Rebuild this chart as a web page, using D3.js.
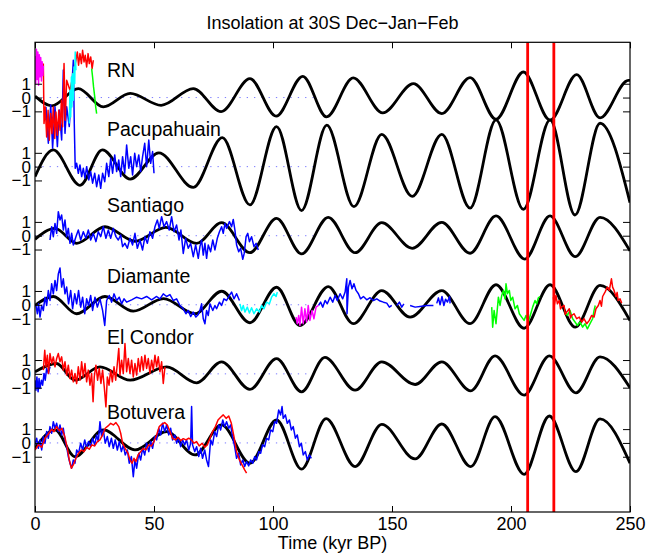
<!DOCTYPE html>
<html>
<head>
<meta charset="utf-8">
<script src="https://cdn.jsdelivr.net/npm/d3@7"></script>
<style>
body { margin: 0; background: #fff; }
text { font-family: "Liberation Sans", Arial, Helvetica, sans-serif; fill: #000; }
</style>
</head>
<body>
<script>
// panel names, top to bottom
var panels = ["RN", "Pacupahuain", "Santiago", "Diamante", "El Condor", "Botuvera"];
var xTicks = [0, 50, 100, 150, 200, 250];
var yTickValues = [-1, 0, 1];
var yTickLabels = ["\u22121", "0", "1"];
var markers = [207, 218]; // red vertical lines, kyr BP

// insolation curves, turning points [kyr, value]
var insolRN = [[0, 0.1], [7, -0.6], [18.2, 0.65], [28.7, -0.68], [40, 0.3], [53, -0.56], [66.5, 0.65],
  [78.2, -1.02], [90.3, 1.37], [101.3, -1.35], [112.5, 1.54], [122.5, -1.4], [133.7, 1.42], [146.1, -1.11],
  [159, 1.01], [170.9, -1.16], [182.8, 1.45], [193.7, -1.57], [205.2, 1.85], [216.4, -1.64], [227.6, 1.66],
  [237.4, -1.47], [249.3, 1.25], [250, 1.24]];
var insolPacu = [[0, -0.72], [7.7, 1.21], [18.9, -1.35], [28.3, 1.21], [40, -0.9], [52, 1.0], [66.5, -1.5],
  [78.7, 2.1], [90.3, -2.77], [101.5, 2.9], [112, -3.18], [122.6, 3.0], [134, -2.9], [145.7, 2.34],
  [158.5, -2.15], [170.9, 2.34], [182.8, -3.0], [193.7, 3.38], [205.2, -3.1], [216.4, 3.38], [226.9, -3.5],
  [237.4, 3.14], [250, -2.6]];
var insolSantiago = [[0, -0.26], [8.4, 0.53], [17.5, -0.55], [29.4, 0.65], [42, -0.4], [55, 0.6], [67.9, -0.55],
  [78.4, 0.94], [90.3, -1.23], [101.5, 1.26], [112, -1.32], [123.2, 1.33], [134.5, -1.23], [145.7, 0.94],
  [158.5, -0.91], [170.9, 0.97], [182.8, -1.27], [193.7, 1.43], [205.8, -1.69], [216.4, 1.43], [227, -1.52],
  [237.4, 1.33], [250, -1.1]];
var insolDiamante = [[0, -0.05], [7.7, 0.6], [17.5, -0.65], [29.4, 0.6], [41.3, -0.46], [54, 0.45], [67.2, -0.65],
  [78.4, 0.98], [90.3, -1.3], [101.5, 1.27], [111.3, -1.5], [123.2, 1.32], [133.7, -1.37], [145.7, 1.03],
  [157.6, -0.9], [170.9, 1.03], [182.8, -1.37], [193.7, 1.45], [205.5, -1.7], [216.4, 1.45], [227, -1.62],
  [237.4, 1.4], [250, -1.14]];
var insolCondor = [[0, 0.14], [9, 0.75], [16.8, -0.46], [27.3, 0.5], [40, -0.46], [55.3, 0.5], [67.9, -0.65],
  [78.4, 0.87], [90.3, -1.13], [101.5, 1.1], [112, -1.3], [121.8, 1.19], [134.5, -1.18], [145.7, 0.87],
  [159.7, -0.77], [170.9, 0.87], [183.1, -1.23], [193.3, 1.3], [205.5, -1.54], [216.1, 1.3], [227.3, -1.37],
  [237.4, 1.23], [250, -1.01]];
var insolBotuvera = [[0, -0.38], [8.4, 0.94], [16.8, -0.99], [28.7, 0.94], [42, -0.5], [55.3, 0.82], [67.2, -0.87],
  [78.4, 1.3], [90.3, -1.47], [101.5, 1.66], [112, -1.9], [122.3, 1.76], [134.5, -1.71], [145.7, 1.35],
  [159.7, -1.16], [170.9, 1.37], [183.1, -1.71], [193.3, 1.9], [205.5, -2.27], [216.1, 1.95], [227.3, -2.08],
  [237.4, 1.74], [250, -1.47]];
var insolation = [insolRN, insolPacu, insolSantiago, insolDiamante, insolCondor, insolBotuvera];

// proxy records [kyr, value], null = gap
var rnMagenta = [[0, 3.0], [0.3, 1.0], [0.6, 3.5], [0.9, 1.3], [1.2, 3.3], [1.5, 0.9], [1.8, 3.1], [2.1, 1.5],
  [2.4, 2.9], [2.7, 1.2], [3.0, 2.6], [3.3, 1.6], [3.5, 2.3]];
var rnRed = [[3.5, 2.46], [3.8, -1.88], [4.3, -0.68], [4.9, -2.85], [5.5, -0.92], [6.0, -3.09], [6.6, -1.16],
  [7.1, -2.61], [7.7, -0.68], [8.3, -2.97], [8.8, -1.04], [9.4, -2.73], [10.0, -0.92], [10.5, -2.37],
  [11.1, -0.2], [11.6, -2.12], [12.2, 2.46], [12.7, -1.64], [13.3, 1.25], [14.7, 0.53], [16.1, 1.73],
  [17.2, 2.7], [17.8, 3.3], [18.3, 2.34], [18.9, 3.18], [19.5, 2.46], [20.0, 3.42], [20.6, 2.58], [21.1, 3.06],
  [21.7, 2.22], [22.3, 3.18], [22.8, 2.46], [23.4, 2.94], [24.0, 2.1], [24.5, 2.7]];
var rnCyan = [[14.4, -1.88], [14.7, 0.53], [15.0, -1.4], [15.3, 1.49], [15.5, -0.68], [15.8, 1.73], [16.1, -0.2],
  [16.4, 2.22], [16.7, 1.01], [16.9, 3.3], [17.2, 1.98]];
var rnGreen = [[23.8, 2.1], [24.2, 1.49], [24.6, 0.77], [25.1, 0.05], [25.5, -0.68], [25.9, -1.16]];

var pacuBlue = [[4.6, 4.34], [5.6, 1.69], [6.6, 4.46], [7.4, 1.33], [8.4, 4.34], [9.4, 1.45], [10.2, 4.1],
  [11.2, 1.93], [11.9, 7.0], [12.6, 2.41], [13.3, 4.34], [14.4, 2.9], [15.4, 5.55], [16.1, 7.7], [16.5, 3.14],
  [16.9, -0.12], [17.5, 0.24], [18.2, -0.48], [18.9, 0.12], [19.6, -0.72], [20.3, -0.12], [21.0, -0.84],
  [21.7, 0], [22.6, -0.96], [23.4, -0.36], [24.2, -1.2], [25.1, -0.48], [25.9, -1.45], [26.8, -0.6],
  [27.6, -1.57], [28.4, -0.48], [29.3, -1.09], [30.1, 0.24], [31.0, -0.72], [31.8, 0.6], [32.6, -0.48],
  [33.5, 0.85], [34.3, -0.36], [35.2, 0.48], [36.0, -0.72], [36.8, 0.72], [37.7, -0.48], [38.5, 1.57],
  [39.4, -0.12], [40.2, 0.72], [41.0, -0.6], [41.9, 0.97], [42.7, 0], [43.6, 0.85], [44.4, -0.36], [45.2, 0.72],
  [46.1, 1.69], [46.9, 0], [47.8, 1.93], [48.6, 0.24], [49.4, 1.09], [50.0, -0.48]];

var santiagoBlue = [[6.3, -0.31], [7.0, 0.65], [7.7, -0.07], [8.4, 0.89], [9.1, 0.17], [9.8, 1.74], [10.5, 1.14],
  [11.2, 1.5], [11.9, 0.41], [12.6, 1.14], [13.3, -0.07], [14.0, 0.53], [14.7, -0.55], [15.4, 0.17],
  [16.1, -0.67], [17.2, -0.07], [18.2, 0.41], [19.2, -0.31], [20.3, 0.29], [21.4, -0.19], [22.4, 0.41],
  [23.4, -0.31], [24.5, 0.17], [25.6, -0.43], [26.6, 0.29], [27.6, -0.07], [28.7, 0.65], [29.8, -0.19],
  [30.8, 0.41], [31.8, -0.19], [32.9, 0.53], [34.0, -0.07], [35.0, -0.31], [36.0, 0.05], [36.8, -0.79],
  [37.8, -0.55], [38.8, -0.91], [39.9, -0.19], [41.0, -0.67], [42.0, 0.17], [43.0, -0.91], [44.1, -0.31],
  [45.2, -1.03], [46.2, -0.07], [47.2, -0.55], [48.3, 0.29], [49.4, -0.19], [50.4, 0.65], [51.4, 1.14],
  [52.2, 0.53], [53.2, 1.38], [54.2, 0.65], [55.3, 1.02], [56.4, 0.41], [57.4, 1.38], [58.4, 0.29],
  [59.5, 0.77], [60.5, -0.31], [61.3, 0.41], [62.3, -1.28], [63.3, -0.19], [64.4, -0.91], [65.4, -0.55],
  [66.5, -1.52], [67.5, -0.67], [68.6, -1.64], [69.3, -0.79], [70.0, -0.31], [70.7, -1.4], [71.4, -0.55],
  [72.1, -1.64], [72.8, -0.67], [73.8, -1.16], [74.7, -0.31], [75.6, -1.03], [76.6, -0.19], [77.5, 0.29],
  [78.4, 0.65], [79.1, 0.17], [79.8, 0.89], [80.5, 0.53], [81.7, 1.02], [82.6, 0.65], [83.3, 1.18],
  [84.0, 0.41], [84.7, -0.67], [85.6, -1.16], [86.4, -0.91], [87.3, -1.71], [87.9, -1.28], [88.7, -0.07],
  [89.4, 0.17], [90.1, -0.43], [91.0, -0.07], [92.0, -0.79], [92.9, -0.55], [93.8, -1.03]];

var diamanteBlue = [[0.4, -0.05], [1.0, -0.65], [1.5, 0.07], [2.1, -0.89], [2.8, -0.05], [3.5, -0.41],
  [4.2, 0.55], [4.9, -0.05], [5.6, 1.03], [6.3, 0.31], [7.0, 1.52], [7.7, 0.79], [8.4, 1.76], [9.1, 1.03],
  [9.8, 2.24], [10.5, 2.67], [11.2, 1.28], [11.9, 1.88], [12.6, 0.79], [13.3, 1.28], [14.1, 0.07], [15.0, 1.03],
  [15.8, -0.29], [16.7, 0.79], [17.5, 0.07], [18.3, 1.03], [19.2, -0.17], [20.0, 0.55], [20.9, -0.65],
  [21.7, 0.43], [22.5, -0.05], [23.4, 0.67], [24.2, -0.41], [25.2, 0.55], [26.2, -0.17], [27.3, 0.43],
  [28.4, -0.41], [29.3, -1.5], [30.1, 0.31], [31.2, 0.67], [32.2, 0.19], [33.2, 0.79], [34.3, 0.31],
  [35.4, 0.55], [36.4, 0.07], [37.4, 0.43], [38.5, 0.19], [40.6, 0.36], [42.7, 0.55], [44.8, 0.43],
  [46.9, 0.6], [49.0, 0.36], [51.1, 0.6], [52.5, 0.43], [53.9, 0.79], [55.3, 0.6], [56.7, 0.74], [58.1, 0.31],
  [59.5, 0.43], [60.9, -0.05], [62.3, -0.29], [63.4, -0.65], [64.4, -0.41], [65.4, -0.85], [66.5, -0.53],
  [67.6, -0.89], [68.6, -0.7], [69.3, -0.41], [70.0, 0.07], [70.7, -1.01], [71.4, -1.37], [72.1, -0.41],
  [72.8, -0.77], [73.5, 0.07], [74.7, -0.41], [75.6, -0.05], [76.3, -0.29], [77.5, 0.19], [78.4, -0.05],
  [79.4, 0.43], [80.5, 0.31], [81.7, 0.68], [82.6, 0.92], [83.6, 0.43], [84.7, 0.8], [85.9, 0.31],
  [100, null],
  [119.1, -0.05], [120.0, 0.19], [120.9, -0.17], [121.9, 0.31], [122.8, 0.07], [124.0, 0.55], [125.1, 0.19],
  [126.1, 0.68], [127.0, 0.31], [128.2, 0.8], [129.3, 0.43], [130.3, 0.92], [131.0, 1.88], [131.1, -0.65],
  [131.7, 1.28], [132.4, 1.76], [133.2, 1.16], [134.0, 1.52], [134.9, 1.04], [135.9, 0.8], [136.8, 0.43],
  [138.0, 0.6], [139.4, 0.36], [140.8, 0.51], [142.2, 0.31], [143.6, 0.43], [145.0, 0.27], [146.4, 0.19],
  [147.8, 0.12], [148.9, -0.17], [149.9, -0.05], [151, null], [152.0, -0.05], [153.1, 0.19], [154.1, -0.17],
  [155.0, 0.07], [156.3, null], [157.6, -0.05], [159.7, -0.17], [161.8, -0.12], [164.5, -0.05], [167.4, -0.05],
  [168.1, null], [168.8, 0.1], [169.5, 0.5], [170.2, 0.0], [171.0, 0.6], [171.8, -0.05], [172.5, 0.4],
  [173.3, 0.2], [174.2, 0.6], [174.4, 0.1]];
var diamanteCyan = [[86.1, 0.07], [86.8, -0.41], [87.5, -0.05], [88.2, -0.53], [89.2, -0.17], [90.1, -0.6],
  [91.0, -0.22], [92.0, -0.65], [93.1, -0.29], [94.3, -0.53], [95.2, -0.05], [96.2, -0.29], [97.3, 0.19],
  [98.5, 0.07], [99.4, 0.55], [100.4, 0.8], [101.3, 0.6], [101.8, 0.92]];
var diamanteMagenta = [[109.7, -0.89], [110.2, -1.37], [110.8, -0.77], [111.3, -1.5], [112.0, -0.17],
  [112.7, -1.37], [113.4, -0.29], [114.1, -1.25], [114.8, -0.05], [115.5, -1.13], [116.4, -0.41],
  [117.2, -1.01], [118.1, -0.17], [119.1, -0.05]];
var diamanteGreen = [[191.9, -0.17], [192.3, -1.62], [192.9, -0.41], [193.7, -1.37], [194.7, 0.55],
  [195.4, -0.05], [196.1, 0.68], [196.8, 1.04], [197.5, 0.43], [197.9, 1.52], [198.5, 0.8], [199.3, 1.04],
  [199.9, 0.31], [200.7, 0.55], [201.7, -0.29], [202.7, -0.05], [203.5, -0.65], [204.5, -0.89], [205.5, -1.13],
  [206.3, -0.77], [207.3, -1.25], [208.3, -0.65], [209.1, -0.17], [210.1, 0.31], [210.8, 0.07], [211.5, 0.51],
  [212.2, 0.6], [217, null],
  [222.7, -0.53], [223.7, -0.77], [224.8, -0.41], [225.9, -1.01], [226.9, -1.25], [227.9, -1.5], [229.0, -1.25],
  [230.1, -1.62], [231.1, -1.37], [232.1, -1.74], [233.2, -1.37], [234.3, -1.01], [234.9, -0.41], [235.4, -0.05]];
var diamanteRed = [[217.8, 0.55], [218.2, -0.05], [218.9, 0.68], [219.5, 0.07], [220.3, 0.31], [220.8, -0.3],
  [221.3, -0.17], [222.3, -0.05], [222.8, -0.7], [223.4, -0.53], [224.5, -0.29], [225.0, -0.95], [225.5, -0.77],
  [226.5, -0.65], [227.6, -1.01], [228.7, -0.89], [229.7, -1.25], [230.7, -1.01], [231.8, -1.37], [232.9, -1.13],
  [233.9, -0.77], [234.9, -0.89], [235.7, -0.29], [236.7, -0.05], [237.4, 0.31], [238.0, -0.1], [238.5, 0.6],
  [239.5, 0.92], [240.5, 1.28], [241.3, 1.04], [242.2, 1.88], [242.7, 1.28], [243.3, 1.04], [244.1, 0.6],
  [244.6, 0.9], [245.0, 0.31], [245.8, 0.43], [246.5, 0.12]];

var condorBlue = [[0.0, -0.46], [0.4, -1.18], [0.8, -0.22], [1.3, -1.3], [1.7, -0.34], [2.1, -1.06], [2.7, -0.46],
  [3.2, -0.82], [3.8, 0.03], [4.3, -0.46], [4.9, 0.39], [5.6, 0.03], [6.3, 0.51]];
var condorRed = [[3.5, 0.27], [4.1, 1.71], [4.6, 0.51], [5.2, 1.35], [5.7, 0.03], [6.3, 1.47], [7.0, 0.75],
  [7.7, 1.23], [8.4, 0.51], [9.1, 1.11], [9.8, 1.47], [10.5, 0.87], [11.2, 1.23], [11.9, 0.27], [12.6, 0.87],
  [13.3, -0.09], [14.0, 0.63], [14.7, -0.34], [15.4, 0.27], [16.1, -0.58], [16.8, 0.03], [17.5, -0.7],
  [18.2, 0.51], [18.9, -0.46], [19.6, 0.87], [20.3, -0.22], [21.0, 0.75], [21.7, -0.58], [22.4, 0.27],
  [23.1, -0.82], [23.8, 0.03], [24.4, -2.02], [24.9, -0.22], [25.6, 0.63], [26.3, -0.46], [27.0, 0.39],
  [27.7, -0.7], [28.4, 0.27], [29.1, -0.94], [29.8, -2.39], [30.4, -0.22], [31.1, -0.82], [31.8, 0.27],
  [32.5, -0.58], [33.2, 0.51], [33.9, -0.46], [34.6, 0.75], [35.2, 1.84], [35.7, -0.09], [36.4, 0.99],
  [37.1, 0.03], [37.8, 2.2], [38.5, 0.15], [39.2, 1.11], [39.9, 0.03], [40.6, 0.99], [41.3, -0.22],
  [42.0, 0.75], [42.7, -0.09], [43.4, 1.11], [44.1, 0.15], [44.8, 1.23], [45.5, 0.27], [46.2, 1.35],
  [46.9, 0.39], [47.6, 1.11], [48.3, 0.03], [49.0, 0.99], [49.7, 0.27], [50.4, 1.35], [51.1, 0.51],
  [51.8, 1.23], [52.5, 0.15], [53.2, 0.87], [53.9, -0.7], [54.6, 0.51]];

var botuveraBlue = [[0.0, -0.14], [0.7, 0.34], [1.4, -0.39], [2.1, 0.22], [2.8, -0.51], [3.5, 0.46], [4.2, -0.02],
  [4.9, 0.82], [5.6, 0.34], [6.3, 1.18], [7.0, 0.7], [7.7, 1.54], [8.4, 1.06], [9.1, 1.42], [9.8, 0.82],
  [10.5, 1.3], [11.2, 0.58], [11.9, 1.06], [12.6, 0.22], [13.3, -0.27], [14.0, -0.99], [14.7, -1.47],
  [15.4, -1.83], [16.1, -1.23], [16.8, -1.47], [17.5, -0.51], [18.3, -0.75], [19.2, -0.02], [20.0, -0.51],
  [20.9, 0.22], [21.7, -0.39], [22.5, 0.1], [23.4, -0.27], [24.2, 0.34], [25.1, -0.14], [25.9, 0.58],
  [26.6, 0.1], [27.3, 1.54], [28.0, 0.46], [28.7, 0.94], [29.5, -0.02], [30.4, 0.46], [31.2, -0.27],
  [32.1, 0.34], [32.9, -0.39], [33.7, 0.22], [34.6, -0.51], [35.4, 0.1], [36.3, -0.63], [37.1, -0.14],
  [37.9, -0.87], [38.8, -0.51], [39.6, -1.47], [40.5, -0.99], [41.3, -2.44], [42.0, -1.23], [42.7, -1.83],
  [43.6, -0.75], [44.4, -1.23], [45.2, -0.39], [46.1, -0.87], [46.9, -0.02], [47.8, -0.63], [48.6, 0.1],
  [49.4, -0.39], [50.3, 0.46], [51.1, 0.22], [52.0, 1.06], [52.8, 0.58], [53.6, 1.42], [54.5, 0.82],
  [55.3, 1.3], [56.2, 0.58], [57.0, 1.06], [57.8, 0.22], [58.7, 0.58], [59.5, -0.02], [60.4, 0.34],
  [61.2, -0.27], [62.0, 0.22], [62.9, -0.14], [63.7, 0.22], [64.6, -0.51], [65.4, -0.02], [65.8, 2.63],
  [66.2, -0.14], [67.1, -0.63], [67.9, -0.27], [68.8, -0.99], [69.6, -0.39], [70.4, -1.11], [71.3, -0.51],
  [72.1, -1.23], [72.9, -1.71], [73.8, 0.22], [74.6, -0.14], [75.5, 0.82], [76.3, 0.46], [77.2, 1.3],
  [78.0, 0.94], [78.9, 1.66], [79.7, 1.18], [80.5, 1.54], [81.4, 1.06], [82.2, 1.3], [83.0, 0.46],
  [83.9, -0.27], [84.7, -1.11], [85.6, -0.75], [86.4, -1.59], [87.3, -1.23], [88.1, -1.71], [88.9, -1.35],
  [89.8, -1.66], [90.6, -1.23], [91.5, -1.47], [92.3, -0.99], [93.1, -1.23], [94.0, -0.63], [94.8, -0.75],
  [95.6, -0.14], [96.5, -0.27], [97.3, 0.34], [98.2, 0.22], [99.0, 0.94], [99.9, 0.82], [100.7, 1.54],
  [101.5, 1.42], [102.4, 2.39], [103.2, 2.03], [103.8, 2.63], [104.3, 1.78], [105.2, 2.03], [106.0, 1.42],
  [106.9, 1.66], [107.7, 0.94], [108.5, 1.18], [109.4, 0.34], [110.2, 0.58], [111.1, -0.27], [111.9, -0.02],
  [112.7, -0.87], [113.6, -0.63], [114.4, -1.23], [115.3, -0.87], [116.1, -1.11]];
var botuveraRed = [[0.0, -0.51], [1.4, -0.14], [2.8, -0.31], [4.2, 0.34], [5.6, 0.65], [7.0, 0.99], [8.0, 0.82],
  [9.1, 1.18], [10.2, 0.89], [11.3, 1.06], [12.5, 0.46], [13.6, -0.39], [14.4, -1.23], [15.3, -1.83],
  [16.1, -1.59], [17.2, -1.11], [18.3, -0.75], [19.5, -0.51], [20.6, -0.63], [21.7, -0.31], [22.8, -0.46],
  [23.9, -0.14], [25.1, -0.22], [26.2, 0.1], [27.3, 0.22], [28.4, 0.58], [29.5, 1.06], [30.7, 1.23],
  [31.8, 1.42], [32.9, 1.3], [34.0, 1.47], [35.2, 1.18], [36.0, 0.7], [36.8, -0.02], [37.9, -0.39],
  [39.1, -0.75], [39.9, -1.23], [40.8, -1.47], [41.6, -1.11], [42.4, -1.35], [43.3, -0.87], [44.4, -0.63],
  [45.5, -0.39], [46.6, -0.51], [47.8, -0.14], [48.9, -0.22], [50.0, 0.1], [51.1, 0.58], [52.2, 1.18],
  [53.4, 1.37], [54.5, 1.47], [55.6, 1.3], [56.7, 0.82], [57.8, 0.34], [59.0, 0.22], [60.1, 0.41],
  [61.2, 0.17], [62.3, 0.31], [63.4, 0.22], [64.6, 0.34], [65.7, 0.22], [66.8, -0.02], [67.9, 0.1],
  [69.0, -0.22], [70.2, -0.02], [71.3, -0.31], [72.4, -0.14], [73.5, 0.34], [74.6, 0.82], [75.8, 1.18],
  [76.9, 1.66], [78.0, 1.86], [79.1, 2.03], [80.3, 1.78], [81.4, 1.95], [82.5, 1.42], [83.6, 0.46],
  [84.7, -0.63], [85.9, -1.23], [87.0, -1.59], [88.1, -1.95], [88.9, -2.19]];

// draw order matters: earlier records lie underneath
var records = [
  { panel: 1, color: "#0000ff", values: pacuBlue },
  { panel: 0, color: "#ff0000", values: rnRed },
  { panel: 0, color: "#ff00ff", values: rnMagenta },
  { panel: 0, color: "#00ffff", values: rnCyan },
  { panel: 0, color: "#00ff00", values: rnGreen },
  { panel: 2, color: "#0000ff", values: santiagoBlue },
  { panel: 3, color: "#0000ff", values: diamanteBlue },
  { panel: 3, color: "#00ffff", values: diamanteCyan },
  { panel: 3, color: "#ff00ff", values: diamanteMagenta },
  { panel: 3, color: "#00ff00", values: diamanteGreen },
  { panel: 3, color: "#ff0000", values: diamanteRed },
  { panel: 4, color: "#0000ff", values: condorBlue },
  { panel: 4, color: "#ff0000", values: condorRed },
  { panel: 5, color: "#0000ff", values: botuveraBlue },
  { panel: 5, color: "#ff0000", values: botuveraRed }
];

var width = 648, height = 556;
var plotLeft = 35, plotRight = 630, plotTop = 42.3, plotBottom = 512;
var spacing = 5;        // vertical offset between panels, in data units
var zeroLineEnd = 119;  // dotted zero lines stop here (kyr)
var labelLift = [1.5, 2.2, 1.75, 1.55, 2.15, 1.7];

var x = d3.scaleLinear().domain([0, 250]).range([plotLeft, plotRight]);
var y = d3.scaleLinear().domain([-30, 4]).range([plotBottom, plotTop]);

function offset(k) { return -spacing * k; }

function lineFor(k, smooth) {
  var l = d3.line()
    .defined(function (d) { return d[1] != null; })
    .x(function (d) { return x(d[0]); })
    .y(function (d) { return y(offset(k) + d[1]); });
  if (smooth) l.curve(d3.curveMonotoneX);
  return l;
}

var svg = d3.select("body").append("svg")
  .attr("width", width)
  .attr("height", height);

svg.append("defs").append("clipPath").attr("id", "plotArea")
  .append("rect")
  .attr("x", plotLeft).attr("y", plotTop)
  .attr("width", plotRight - plotLeft).attr("height", plotBottom - plotTop);

var plot = svg.append("g").attr("clip-path", "url(#plotArea)");

// dotted zero lines
plot.selectAll(".zero")
  .data(panels)
  .enter().append("line")
  .attr("class", "zero")
  .attr("x1", x(0)).attr("x2", x(zeroLineEnd))
  .attr("y1", function (d, k) { return y(offset(k)); })
  .attr("y2", function (d, k) { return y(offset(k)); })
  .attr("stroke", "#7a7aff")
  .attr("stroke-width", 1)
  .attr("stroke-dasharray", "1.3,6");

// insolation curves
plot.selectAll(".insol")
  .data(insolation)
  .enter().append("path")
  .attr("class", "insol")
  .attr("d", function (d, k) { return lineFor(k, true)(d); })
  .attr("fill", "none")
  .attr("stroke", "#000")
  .attr("stroke-width", 2.8);

// proxy records
plot.selectAll(".rec")
  .data(records)
  .enter().append("path")
  .attr("class", "rec")
  .attr("d", function (d) { return lineFor(d.panel, false)(d.values); })
  .attr("fill", "none")
  .attr("stroke", function (d) { return d.color; })
  .attr("stroke-width", 1.5)
  .attr("stroke-linejoin", "round");

// red marker lines
plot.selectAll(".mark")
  .data(markers)
  .enter().append("line")
  .attr("class", "mark")
  .attr("x1", function (d) { return x(d); })
  .attr("x2", function (d) { return x(d); })
  .attr("y1", plotTop).attr("y2", plotBottom)
  .attr("stroke", "#ff0000")
  .attr("stroke-width", 2.8);

// axes
var tickVals = [];
panels.forEach(function (p, k) {
  yTickValues.forEach(function (v) { tickVals.push(offset(k) + v); });
});
function tickLabel(d) {
  var k = Math.round(-d / spacing);
  var v = Math.round(d - offset(k));
  return yTickLabels[yTickValues.indexOf(v)];
}

function styleAxis(size) {
  return function (g) {
    g.select(".domain").remove();
    g.attr("font-family", null).attr("font-size", null);
    g.selectAll("text").attr("font-size", size).attr("fill", "#000");
    g.selectAll("line").attr("stroke", "#000");
  };
}

svg.append("g")
  .attr("transform", "translate(" + plotLeft + ",0)")
  .call(d3.axisLeft(y).tickValues(tickVals).tickFormat(tickLabel)
    .tickSizeInner(-7).tickSizeOuter(0).tickPadding(4))
  .call(styleAxis(17));

svg.append("g")
  .attr("transform", "translate(" + plotRight + ",0)")
  .call(d3.axisRight(y).tickValues(tickVals).tickFormat("")
    .tickSizeInner(-7).tickSizeOuter(0))
  .call(styleAxis(17));

svg.append("g")
  .attr("transform", "translate(0," + plotBottom + ")")
  .call(d3.axisBottom(x).tickValues(xTicks).tickFormat(d3.format("d"))
    .tickSizeInner(-6).tickSizeOuter(0).tickPadding(5))
  .call(styleAxis(18));

svg.append("g")
  .attr("transform", "translate(0," + plotTop + ")")
  .call(d3.axisTop(x).tickValues(xTicks).tickFormat("")
    .tickSizeInner(-6).tickSizeOuter(0))
  .call(styleAxis(18));

svg.append("rect")
  .attr("x", plotLeft).attr("y", plotTop)
  .attr("width", plotRight - plotLeft).attr("height", plotBottom - plotTop)
  .attr("fill", "none")
  .attr("stroke", "#000")
  .attr("stroke-width", 1.2);

// panel labels
svg.selectAll(".plabel")
  .data(panels)
  .enter().append("text")
  .attr("class", "plabel")
  .attr("x", 107)
  .attr("y", function (d, k) { return y(offset(k) + labelLift[k]); })
  .attr("font-size", 19.5)
  .text(function (d) { return d; });

svg.append("text")
  .attr("x", (plotLeft + plotRight) / 2)
  .attr("y", 29)
  .attr("text-anchor", "middle")
  .attr("font-size", 18)
  .text("Insolation at 30S Dec\u2212Jan\u2212Feb");

svg.append("text")
  .attr("x", (plotLeft + plotRight) / 2)
  .attr("y", 549)
  .attr("text-anchor", "middle")
  .attr("font-size", 18)
  .text("Time (kyr BP)");
</script>
</body>
</html>
